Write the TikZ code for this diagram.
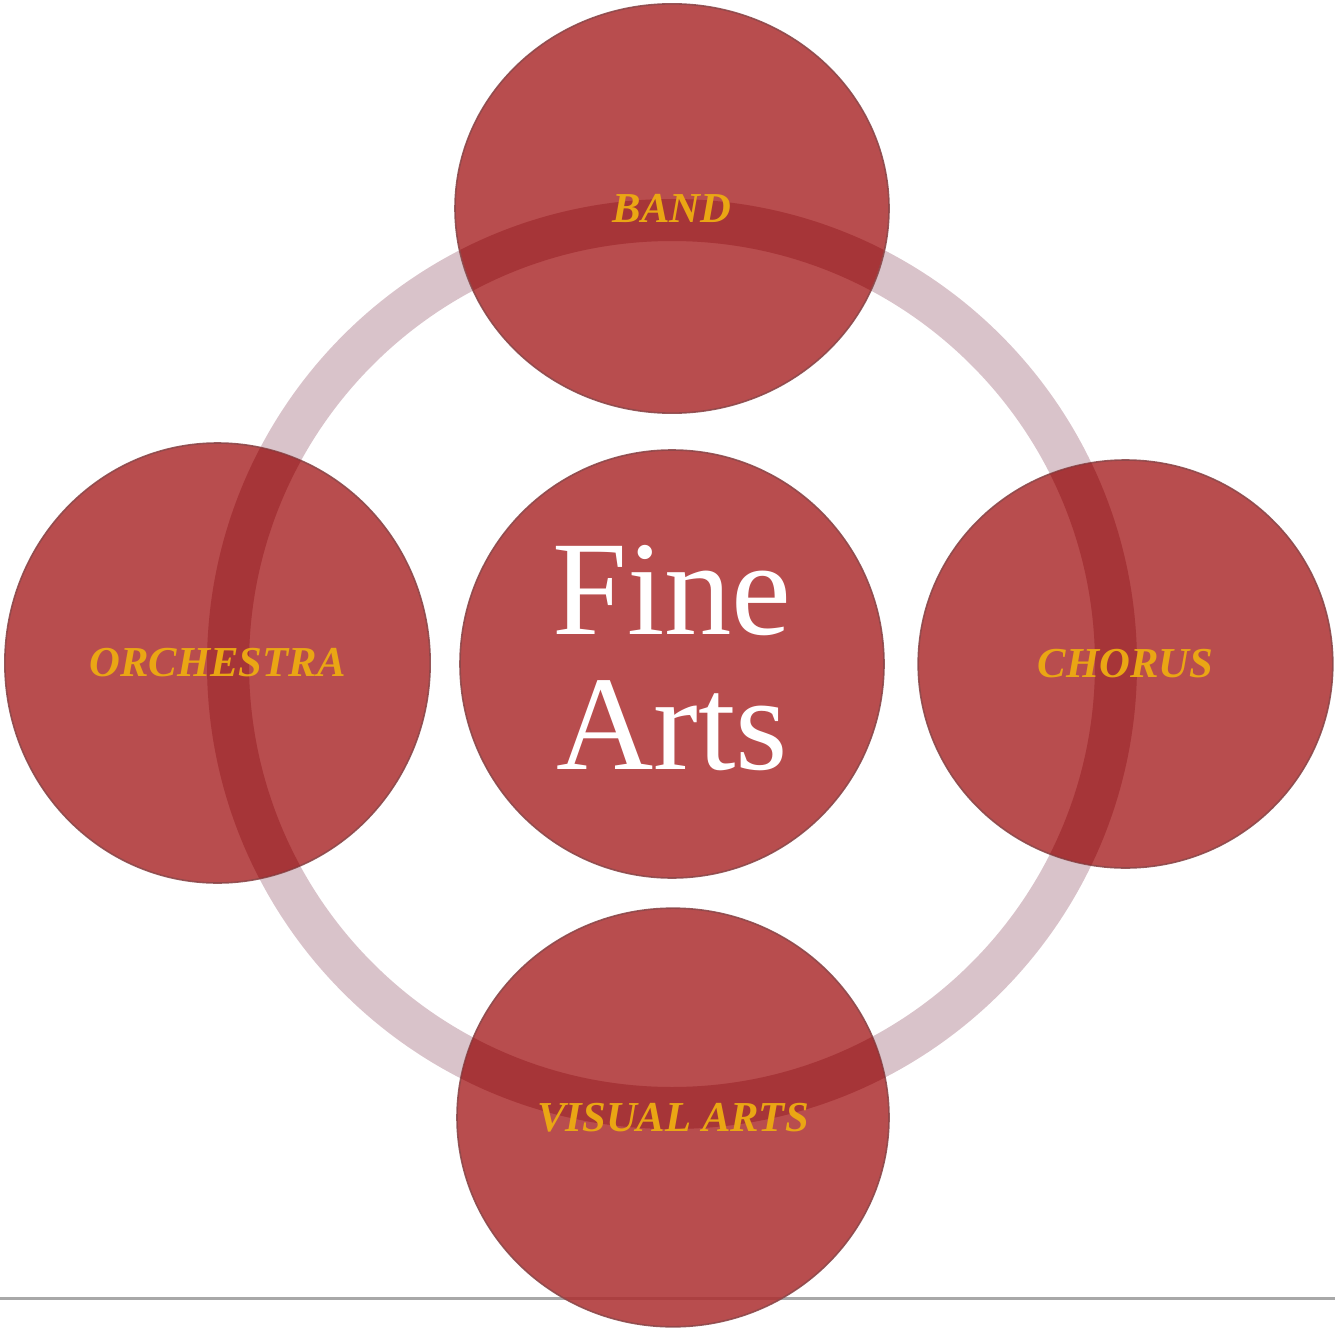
\documentclass[tikz,border=0pt]{standalone}
\usepackage{fontspec}
\usetikzlibrary{shapes.geometric}
\newfontfamily\labelfont{Liberation Serif}

\definecolor{petalred}{RGB}{172,46,47}
\definecolor{petaledge}{RGB}{140,72,74}
\definecolor{ringpale}{RGB}{217,195,202}
\definecolor{ringdeep}{RGB}{140,20,25}
\definecolor{labelgold}{RGB}{234,166,20}
\definecolor{rulegray}{RGB}{168,168,168}

\tikzset{every picture/.style={line width=0.75pt}}
\tikzset{
  petal/.style={ellipse, inner sep=0pt, outer sep=0pt, fill=petalred, fill opacity=0.85, draw=petaledge, draw opacity=0.9, line width=1.2pt},
  ringband/.style={draw=ringpale, line width=31.5pt},
  ringshade/.style={draw=ringdeep, draw opacity=0.3, line width=31.5pt},
  petallabel/.style={inner sep=0pt, text=labelgold, font=\labelfont\bfseries\itshape\fontsize{32}{36}\selectfont},
  hublabel/.style={inner sep=0pt, text=white, align=center, font=\labelfont\fontsize{101}{101}\selectfont}
}

\begin{document}
\begin{tikzpicture}[x=0.75pt,y=0.75pt,yscale=-1,xscale=1]
  \useasboundingbox (0,0) rectangle (1335,1330);

  %bottom rule
  \coordinate (ruleL) at (0,1298);
  \coordinate (ruleR) at (1335,1298);
  \draw [rulegray, line width=2.25pt] (ruleL) -- (ruleR);

  %ring
  \coordinate (ringc) at (672,664);
  \draw [ringband] (ringc) circle [radius=444];

  %circles
  \node [petal, minimum width=318pt, minimum height=321pt] (hub) at (672,664) {};
  \node [petal, minimum width=325.5pt, minimum height=307pt] (band) at (672,208.5) {};
  \node [petal, minimum width=319pt, minimum height=330pt] (orchestra) at (217.5,663) {};
  \node [petal, minimum width=311pt, minimum height=306pt] (chorus) at (1125.5,664) {};
  \node [petal, minimum width=324pt, minimum height=314pt] (visual) at (673,1117.5) {};

  %ring seen through the circles
  \begin{scope}
    \clip (band.center) ellipse [x radius=216, y radius=204.5]
          (orchestra.center) ellipse [x radius=212.5, y radius=220]
          (chorus.center) ellipse [x radius=207.5, y radius=204]
          (visual.center) ellipse [x radius=216, y radius=209.5];
    \draw [ringshade] (ringc) circle [radius=444];
  \end{scope}

  %labels
  \node [hublabel] (hubtext) at (672,658) {Fine\\Arts};
  \node [petallabel] (bandtext) at (band.center) {BAND};
  \node [petallabel] (orchestratext) at (orchestra.center) {ORCHESTRA};
  \node [petallabel] (chorustext) at (chorus.center) {CHORUS};
  \node [petallabel] (visualtext) at (visual.center) {VISUAL ARTS};
\end{tikzpicture}
\end{document}
